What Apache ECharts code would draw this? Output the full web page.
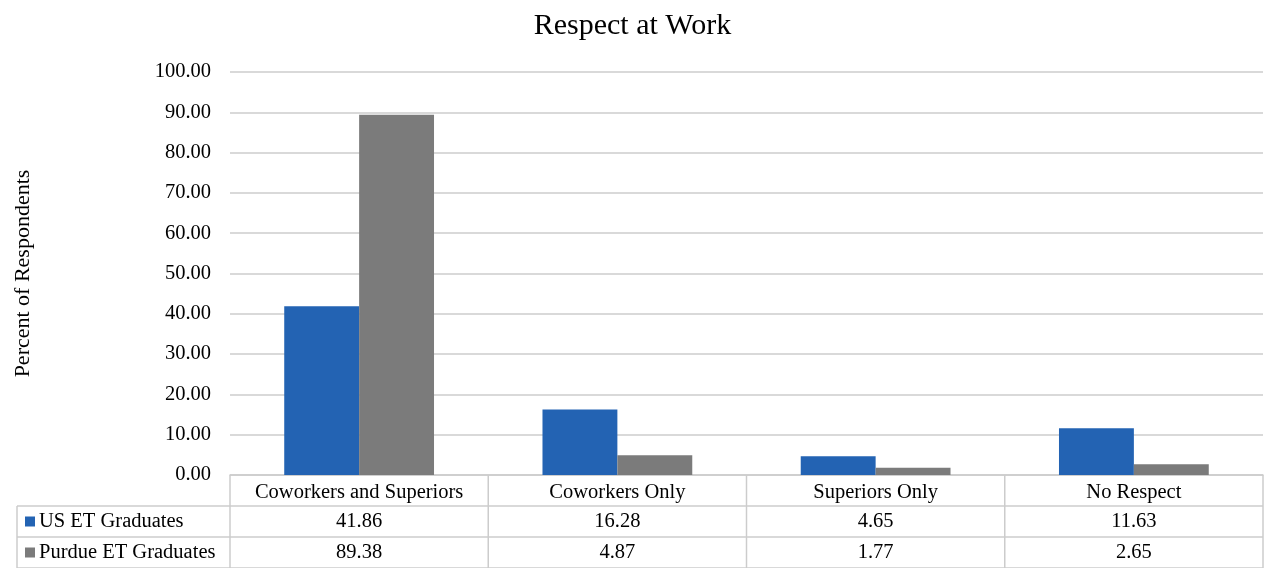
<!DOCTYPE html>
<html>
<head>
<meta charset="utf-8">
<script src="https://cdn.jsdelivr.net/npm/echarts@6/dist/echarts.min.js"></script>
<style>
  html, body { margin: 0; padding: 0; background: #fff; }
  #chart { width: 1265px; height: 568px; }
</style>
</head>
<body>
<div id="chart"></div>
<script>
// data
const categories = ['Coworkers and Superiors', 'Coworkers Only', 'Superiors Only', 'No Respect'];
const usGrads = [41.86, 16.28, 4.65, 11.63];
const purdueGrads = [89.38, 4.87, 1.77, 2.65];
const seriesNames = ['US ET Graduates', 'Purdue ET Graduates'];
const seriesColors = ['#2363b3', '#7b7b7b'];

const FONT = 'Liberation Serif';
const LINE = '#cccccc';
const TXT = 20.5;

const chart = echarts.init(document.getElementById('chart'));

chart.setOption({
    animation: false,
    title: {
        text: 'Respect at Work',
        left: 'center',
        top: 6,
        textStyle: { fontFamily: FONT, fontSize: 30, fontWeight: 'normal', color: '#000' }
    },
    grid: { left: 230, right: 2, top: 72, bottom: 93 },
    xAxis: {
        type: 'category',
        data: categories,
        axisLine: { lineStyle: { color: LINE, width: 1.5 } },
        axisTick: { show: false },
        axisLabel: { interval: 0, hideOverlap: false, margin: 7, fontFamily: FONT, fontSize: TXT, color: '#000' }
    },
    yAxis: {
        type: 'value',
        min: 0,
        max: 100,
        interval: 10,
        name: 'Percent of Respondents',
        nameLocation: 'middle',
        nameGap: 196,
        nameTextStyle: { fontFamily: FONT, fontSize: 22, color: '#000' },
        axisLabel: {
            margin: 19,
            fontFamily: FONT,
            fontSize: TXT,
            color: '#000',
            formatter: v => v.toFixed(2)
        },
        splitLine: { lineStyle: { color: LINE, width: 1.5 } }
    },
    series: [
        {
            name: seriesNames[0],
            type: 'bar',
            data: usGrads,
            barGap: '0%',
            barCategoryGap: '42%',
            itemStyle: { color: seriesColors[0] }
        },
        {
            name: seriesNames[1],
            type: 'bar',
            data: purdueGrads,
            itemStyle: { color: seriesColors[1] }
        }
    ]
});

// data table under the axis, placed from the category scale
function buildTable() {
    const rowH = 31;
    const y0 = chart.convertToPixel({ yAxisIndex: 0 }, 0);
    const c0 = chart.convertToPixel({ xAxisIndex: 0 }, 0);
    const c1 = chart.convertToPixel({ xAxisIndex: 0 }, 1);
    const band = c1 - c0;
    const left = c0 - band / 2;
    const right = left + band * categories.length;
    const tableLeft = 17;
    const elements = [];
    const line = (x1, y1, x2, y2) => elements.push({
        type: 'line',
        shape: { x1, y1, x2, y2 },
        style: { stroke: LINE, lineWidth: 1.5 }
    });

    // horizontal rules
    line(tableLeft, y0 + rowH, right, y0 + rowH);
    line(tableLeft, y0 + rowH * 2, right, y0 + rowH * 2);
    line(tableLeft, y0 + rowH * 3, right, y0 + rowH * 3);
    // vertical rules
    line(tableLeft, y0 + rowH, tableLeft, y0 + rowH * 3);
    for (let i = 0; i <= categories.length; i++) {
        const x = left + band * i;
        line(x, y0, x, y0 + rowH * 3);
    }

    [usGrads, purdueGrads].forEach((vals, r) => {
        const cy = y0 + rowH * (r + 1) + rowH / 2;
        elements.push({
            type: 'rect',
            shape: { x: 25, y: cy - 5, width: 10, height: 10 },
            style: { fill: seriesColors[r] }
        });
        elements.push({
            type: 'text',
            x: 39,
            y: cy,
            style: {
                text: seriesNames[r], fontFamily: FONT, fontSize: TXT, fill: '#000',
                verticalAlign: 'middle', align: 'left'
            }
        });
        vals.forEach((v, i) => {
            elements.push({
                type: 'text',
                x: chart.convertToPixel({ xAxisIndex: 0 }, i),
                y: cy,
                style: {
                    text: v.toFixed(2), fontFamily: FONT, fontSize: TXT, fill: '#000',
                    verticalAlign: 'middle', align: 'center'
                }
            });
        });
    });

    chart.setOption({ graphic: { elements } });
}
buildTable();
</script>
</body>
</html>
